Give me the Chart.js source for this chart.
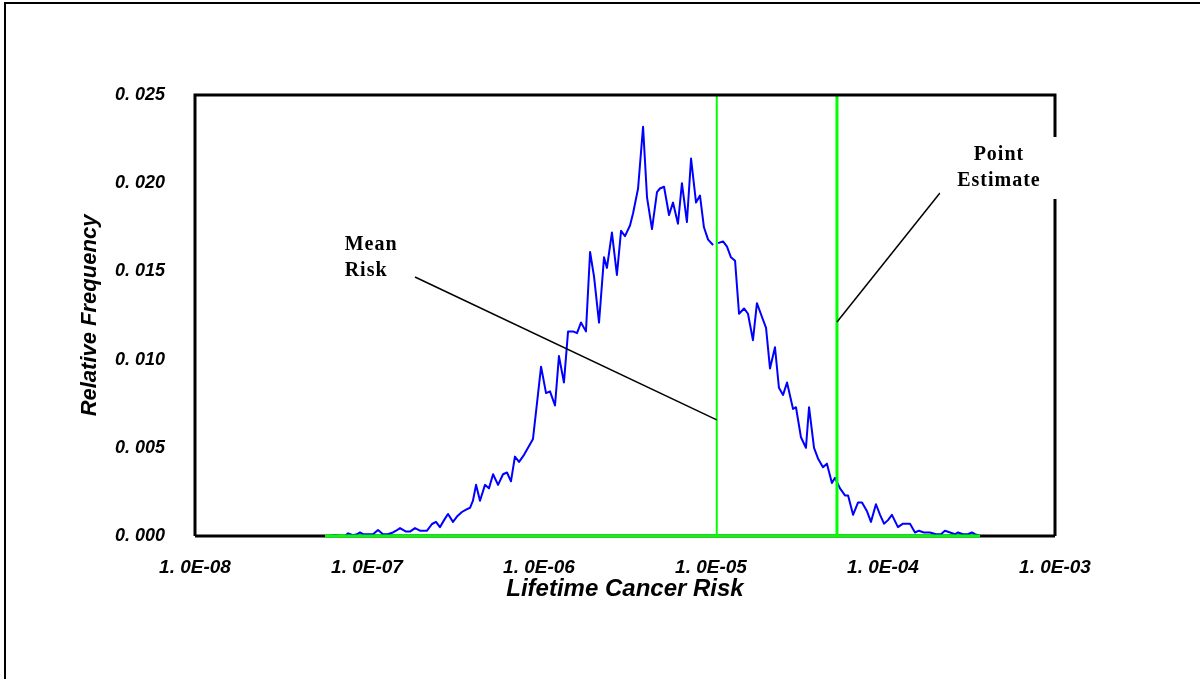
<!DOCTYPE html>
<html lang="en">

<head>
    <title>Lifetime Cancer Risk</title>
    <meta charset="utf-8">
    <script src="https://cdn.jsdelivr.net/npm/chart.js"></script>
    <style>
        html, body { margin: 0; padding: 0; background: #fff; }
        #riskChart { display: block; }
    </style>
</head>

<body>
    <canvas id="riskChart" width="1200" height="679"></canvas>

    <script>
        // log10 of lifetime cancer risk for each histogram point
        const riskExponents = [
            -7.244, -7.215, -7.186, -7.157, -7.128, -7.110, -7.081, -7.058, -7.041, -7.023,
            -6.994, -6.965, -6.936, -6.907, -6.878, -6.849, -6.831, -6.808, -6.773, -6.750,
            -6.721, -6.692, -6.669, -6.651, -6.622, -6.599, -6.576, -6.552, -6.529, -6.500,
            -6.477, -6.448, -6.424, -6.401, -6.384, -6.366, -6.343, -6.314, -6.291, -6.267,
            -6.238, -6.209, -6.186, -6.163, -6.140, -6.116, -6.087, -6.058, -6.035, -6.012,
            -5.988, -5.959, -5.936, -5.907, -5.884, -5.855, -5.831, -5.802, -5.779, -5.756,
            -5.727, -5.703, -5.680, -5.651, -5.622, -5.605, -5.576, -5.547, -5.523, -5.500,
            -5.471, -5.453, -5.424, -5.395, -5.372, -5.343, -5.314, -5.297, -5.273, -5.244,
            -5.221, -5.192, -5.169, -5.140, -5.116, -5.087, -5.064, -5.041, -5.017, -4.988,
            -4.974, -4.959, -4.930, -4.907, -4.884, -4.860, -4.837, -4.808, -4.785, -4.756,
            -4.733, -4.703, -4.680, -4.657, -4.628, -4.605, -4.581, -4.558, -4.523, -4.506,
            -4.477, -4.448, -4.430, -4.401, -4.378, -4.349, -4.326, -4.297, -4.279, -4.250,
            -4.221, -4.203, -4.174, -4.145, -4.122, -4.093, -4.070, -4.041, -4.017, -3.994,
            -3.971, -3.948, -3.913, -3.884, -3.843, -3.814, -3.791, -3.762, -3.727, -3.692,
            -3.663, -3.640, -3.610, -3.581, -3.564, -3.535, -3.506, -3.483, -3.465, -3.436
        ];

        const frequencies = [
            0, 0, 0.00005, 0, 0, 0.00015, 0.00005, 0.0001, 0.0002, 0.0001,
            0.0001, 0.0001, 0.00034, 0.0001, 0.0001, 0.0002, 0.0003, 0.00045, 0.00025, 0.00025,
            0.00045, 0.0003, 0.0003, 0.0003, 0.00068, 0.0008, 0.0005, 0.0009, 0.00125, 0.0008,
            0.0011, 0.00136, 0.0015, 0.0016, 0.0020, 0.0029, 0.0020, 0.0029, 0.0027, 0.0035,
            0.0029, 0.0035, 0.0036, 0.0031, 0.0045, 0.0042, 0.0046, 0.0051, 0.0055, 0.0075,
            0.0096, 0.0081, 0.0082, 0.0074, 0.0102, 0.0087, 0.0116, 0.0116, 0.0115, 0.0121,
            0.0116, 0.0161, 0.0147, 0.0121, 0.0158, 0.0152, 0.0172, 0.0148, 0.0173, 0.0170,
            0.0176, 0.0183, 0.0197, 0.0232, 0.0192, 0.0174, 0.0195, 0.0197, 0.0198, 0.0182,
            0.0189, 0.0177, 0.0200, 0.0178, 0.0214, 0.0189, 0.0193, 0.0175, 0.0168, 0.0165,
            null, 0.0166, 0.0167, 0.0164, 0.0158, 0.0156, 0.0126, 0.0129, 0.0126, 0.0111,
            0.0132, 0.0124, 0.0118, 0.0095, 0.0107, 0.0084, 0.0080, 0.0087, 0.0072, 0.0073,
            0.0056, 0.0050, 0.0073, 0.0050, 0.0044, 0.0039, 0.0041, 0.0030, 0.0033, 0.0027,
            0.0023, 0.0023, 0.0012, 0.0019, 0.0019, 0.0014, 0.0008, 0.0018, 0.0012, 0.0007,
            0.0009, 0.0012, 0.0005, 0.0007, 0.0007, 0.0002, 0.0003, 0.0002, 0.0002, 0.0001,
            0.0001, 0.0003, 0.0002, 0.0001, 0.0002, 0.0001, 0.0001, 0.0002, 0.0001, 0
        ];

        const meanRisk = 1.08e-5;
        const pointEstimate = 5.4e-5;

        const xTickValues = [1e-8, 1e-7, 1e-6, 1e-5, 1e-4, 1e-3];
        const xTickLabels = ['1. 0E-08', '1. 0E-07', '1. 0E-06', '1. 0E-05', '1. 0E-04', '1. 0E-03'];
        const yTickValues = [0, 0.005, 0.010, 0.015, 0.020, 0.025];
        const yTickLabels = ['0. 000', '0. 005', '0. 010', '0. 015', '0. 020', '0. 025'];

        const yMax = 0.025;

        // labels and their leader lines, in data units
        const notes = [
            { lines: ['Mean', 'Risk'], x: 10 ** -7.13, y: 0.0165, align: 'left', box: false,
              from: [10 ** -6.721, 0.01468], to: [meanRisk, 0.00658] },
            { lines: ['Point', 'Estimate'], x: 10 ** -3.326, y: 0.0216, align: 'center', box: true,
              from: [10 ** -3.669, 0.01944], to: [pointEstimate, 0.01213] }
        ];

        const sansBI = '"Liberation Sans", Arial, sans-serif';
        const green = 'rgb(0, 255, 0)';

        const curve = riskExponents.map((e, i) => ({ x: 10 ** e, y: frequencies[i] }));
        const baseline = [
            { x: 10 ** riskExponents[0], y: 0 },
            { x: 10 ** riskExponents[riskExponents.length - 1], y: 0 }
        ];

        const framePlugin = {
            id: 'framePlugin',
            beforeDraw(chart) {
                const ctx = chart.ctx;
                ctx.save();
                ctx.fillStyle = '#fff';
                ctx.fillRect(0, 0, chart.width, chart.height);
                // page border
                ctx.strokeStyle = '#000';
                ctx.lineWidth = 2;
                ctx.beginPath();
                ctx.moveTo(5, chart.height);
                ctx.lineTo(5, 3);
                ctx.lineTo(chart.width, 3);
                ctx.stroke();
                ctx.restore();
            },
            beforeDatasetsDraw(chart) {
                const { ctx, chartArea: a } = chart;
                ctx.save();
                ctx.strokeStyle = '#000';
                ctx.lineWidth = 3;
                ctx.beginPath();
                ctx.moveTo(a.left, a.bottom);
                ctx.lineTo(a.right, a.bottom);
                ctx.stroke();
                ctx.restore();
            },
            afterDatasetsDraw(chart) {
                const { ctx, chartArea: a, scales } = chart;
                ctx.save();
                ctx.strokeStyle = '#000';
                ctx.lineWidth = 3;
                ctx.beginPath();
                ctx.moveTo(a.left, a.bottom);
                ctx.lineTo(a.left, a.top);
                ctx.lineTo(a.right, a.top);
                ctx.lineTo(a.right, a.bottom);
                ctx.stroke();

                notes.forEach(n => {
                    ctx.strokeStyle = '#000';
                    ctx.lineWidth = 1.5;
                    ctx.beginPath();
                    ctx.moveTo(scales.x.getPixelForValue(n.from[0]), scales.y.getPixelForValue(n.from[1]));
                    ctx.lineTo(scales.x.getPixelForValue(n.to[0]), scales.y.getPixelForValue(n.to[1]));
                    ctx.stroke();

                    const px = scales.x.getPixelForValue(n.x);
                    const py = scales.y.getPixelForValue(n.y);
                    ctx.font = 'bold 20px "Liberation Serif", "Times New Roman", serif';
                    ctx.letterSpacing = '1px';
                    const widths = n.lines.map(t => ctx.measureText(t).width);
                    if (n.box) {
                        const w = Math.max(...widths) + 34;
                        ctx.fillStyle = '#fff';
                        ctx.fillRect(px - w / 2, py - 18, w, 62);
                    }
                    ctx.fillStyle = '#000';
                    ctx.textAlign = n.align;
                    ctx.textBaseline = 'middle';
                    n.lines.forEach((t, i) => ctx.fillText(t, px, py + i * 26));
                });
                ctx.restore();
            }
        };

        new Chart(document.getElementById('riskChart'), {
            type: 'line',
            data: {
                datasets: [
                    {
                        label: 'Point Estimate',
                        data: [{ x: pointEstimate, y: 0 }, { x: pointEstimate, y: yMax }],
                        borderColor: green,
                        borderWidth: 3
                    },
                    {
                        label: 'Mean Risk',
                        data: [{ x: meanRisk, y: 0 }, { x: meanRisk, y: yMax }],
                        borderColor: green,
                        borderWidth: 2
                    },
                    {
                        label: 'Baseline',
                        data: baseline,
                        borderColor: green,
                        borderWidth: 3,
                        clip: false
                    },
                    {
                        label: 'Relative Frequency',
                        data: curve,
                        borderColor: 'rgb(0, 0, 255)',
                        borderWidth: 2,
                        spanGaps: false
                    }
                ]
            },
            options: {
                responsive: false,
                animation: false,
                devicePixelRatio: 1,
                layout: { padding: { left: 75, top: 95, right: 145, bottom: 73 } },
                elements: {
                    point: { radius: 0 },
                    line: { tension: 0, borderJoinStyle: 'round' }
                },
                plugins: {
                    legend: { display: false },
                    tooltip: { enabled: false }
                },
                scales: {
                    x: {
                        type: 'logarithmic',
                        min: 1e-8,
                        max: 1e-3,
                        afterBuildTicks: (scale) => {
                            scale.ticks = xTickValues.map(v => ({ value: v }));
                        },
                        afterFit: (scale) => { scale.height = 70; },
                        grid: { display: false, drawTicks: false },
                        border: { display: false },
                        ticks: {
                            autoSkip: false,
                            maxRotation: 0,
                            padding: 20,
                            color: '#000',
                            font: { family: sansBI, size: 19, weight: 'bold', style: 'italic' },
                            callback: (v, i) => xTickLabels[i]
                        },
                        title: {
                            display: true,
                            text: 'Lifetime Cancer Risk',
                            color: '#000',
                            padding: 2,
                            font: { family: sansBI, size: 24, weight: 'bold', style: 'italic' }
                        }
                    },
                    y: {
                        min: 0,
                        max: yMax,
                        afterBuildTicks: (scale) => {
                            scale.ticks = yTickValues.map(v => ({ value: v }));
                        },
                        afterFit: (scale) => { scale.width = 120; },
                        grid: { display: false, drawTicks: false },
                        border: { display: false },
                        ticks: {
                            padding: 30,
                            color: '#000',
                            font: { family: sansBI, size: 18, weight: 'bold', style: 'italic' },
                            callback: (v, i) => yTickLabels[i]
                        },
                        title: {
                            display: true,
                            text: 'Relative Frequency',
                            color: '#000',
                            padding: 2,
                            font: { family: sansBI, size: 22, weight: 'bold', style: 'italic' }
                        }
                    }
                }
            },
            plugins: [framePlugin]
        });
    </script>
</body>

</html>
